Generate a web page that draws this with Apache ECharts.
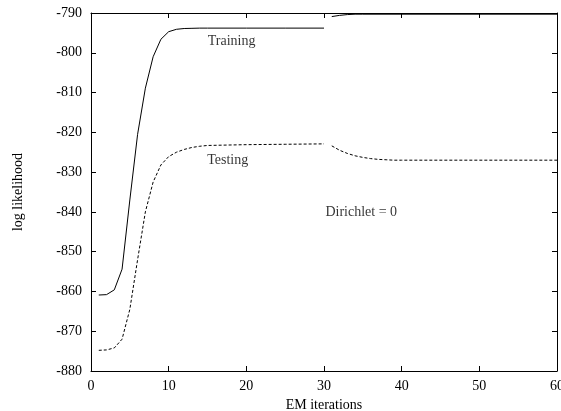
<!DOCTYPE html>
<html>
<head>
<meta charset="utf-8">
<script src="https://cdn.jsdelivr.net/npm/echarts@6/dist/echarts.min.js"></script>
<style>html,body{margin:0;padding:0;background:#fff}#c{width:561px;height:411px}</style>
</head>
<body>
<div id="c"></div>
<script>
// Training run 1 (iterations 1..30)
const trainX1 = [1,2,3,4,5,6,7,8,9,10,11,12,13,14,15,20,25,30];
const trainY1 = [-860.9,-860.8,-859.6,-854.4,-837,-820.5,-808.9,-801,-796.6,-794.7,-794.1,-793.9,-793.85,-793.8,-793.8,-793.8,-793.8,-793.8];
// Training run 2 (iterations 31..60)
const trainX2 = [31,32,33,34,35,40,50,60];
const trainY2 = [-790.9,-790.6,-790.4,-790.3,-790.3,-790.3,-790.3,-790.3];
// Testing run 1
const testX1 = [1,2,3,4,5,6,7,8,9,10,11,12,13,14,15,20,25,30];
const testY1 = [-874.8,-874.7,-874.2,-872.0,-864.5,-852,-840,-832.5,-828.2,-826.1,-825.0,-824.3,-823.8,-823.5,-823.3,-823.1,-823.0,-822.9];
// Testing run 2
const testX2 = [31,32,33,34,35,36,37,38,39,40,50,60];
const testY2 = [-823.4,-824.5,-825.3,-825.9,-826.3,-826.6,-826.8,-826.9,-827.0,-827.0,-827.0,-827.0];

const xTicks = [0,10,20,30,40,50,60];
const yTicks = [-880,-870,-860,-850,-840,-830,-820,-810,-800,-790];
const labels = [
  {text:'Training', x:18.1, y:-797.0},
  {text:'Testing', x:17.6, y:-827.0},
  {text:'Dirichlet = 0', x:34.8, y:-840.0}
];

const pair = (xs, ys) => xs.map((x,i)=>[x, ys[i]]);
const FONT = '"Liberation Serif","DejaVu Serif",serif';
const chart = echarts.init(document.getElementById('c'));

const tickCommon = {show:true, inside:true, length:5, lineStyle:{color:'#000', width:1}};
const lineCommon = {show:true, onZero:false, lineStyle:{color:'#000', width:1}};

const option = {
  animation:false,
  backgroundColor:'#fff',
  grid:{left:91, right:4, top:13, bottom:40, containLabel:false, outerBoundsMode:'none'},
  xAxis:[
    {type:'value', min:0, max:60, interval:10, position:'bottom',
     name:'EM iterations', nameLocation:'middle', nameGap:25,
     nameTextStyle:{fontFamily:FONT, fontSize:14, color:'#000'},
     axisLine:lineCommon, axisTick:tickCommon, splitLine:{show:false},
     axisLabel:{fontFamily:FONT, fontSize:14, color:'#000', margin:8}},
    {type:'value', min:0, max:60, interval:10, position:'top',
     axisLine:lineCommon, axisTick:tickCommon, splitLine:{show:false},
     axisLabel:{show:false}}
  ],
  yAxis:[
    {type:'value', min:-880, max:-790, interval:10, position:'left',
     name:'log likelihood', nameLocation:'middle', nameGap:66,
     nameTextStyle:{fontFamily:FONT, fontSize:14, color:'#000'},
     axisLine:lineCommon, axisTick:tickCommon, splitLine:{show:false},
     axisLabel:{fontFamily:FONT, fontSize:14, color:'#000', margin:9}},
    {type:'value', min:-880, max:-790, interval:10, position:'right',
     axisLine:lineCommon, axisTick:tickCommon, splitLine:{show:false},
     axisLabel:{show:false}}
  ],
  series:[
    {type:'line', data:pair(trainX1,trainY1), smooth:false, showSymbol:false,
     lineStyle:{color:'#000', width:1}},
    {type:'line', data:pair(trainX2,trainY2), smooth:false, showSymbol:false,
     lineStyle:{color:'#000', width:1}},
    {type:'line', data:pair(testX1,testY1), smooth:false, showSymbol:false,
     lineStyle:{color:'#000', width:1, type:[3,2]}},
    {type:'line', data:pair(testX2,testY2), smooth:false, showSymbol:false,
     lineStyle:{color:'#000', width:1, type:[3,2]}},
    {type:'scatter', data:labels.map(l=>({value:[l.x,l.y], name:l.text})),
     symbolSize:0, silent:true,
     label:{show:true, position:'inside', formatter:p=>p.name,
            fontFamily:FONT, fontSize:14, color:'#000'}}
  ]
};
chart.setOption(option);
</script>
</body>
</html>
